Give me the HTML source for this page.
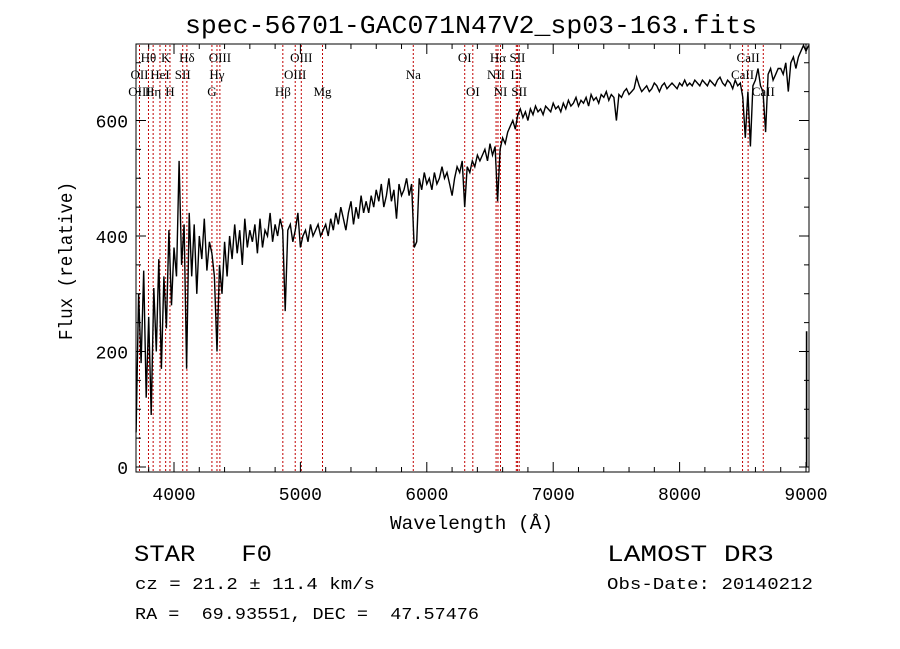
<!DOCTYPE html>
<html><head><meta charset="utf-8"><style>
html,body{margin:0;padding:0;background:#fff;}
svg{display:block;}
text{font-family:"Liberation Mono",monospace;fill:#000;white-space:pre;}
.ser{font-family:"Liberation Serif",serif;}
</style></head><body>
<svg id="chart" width="900" height="649" viewBox="0 0 900 649" xmlns="http://www.w3.org/2000/svg" xml:space="preserve">
<rect width="900" height="649" fill="#fff"/>
<text x="185" y="33" font-size="26" textLength="572" lengthAdjust="spacingAndGlyphs">spec-56701-GAC071N47V2_sp03-163.fits</text>
<g id="lines"></g>
<g id="series"></g>
<rect x="136" y="44" width="673" height="428" fill="none" stroke="#000" stroke-width="1"/>
<g id="axes"></g>
<text x="390" y="529" font-size="19" textLength="163" lengthAdjust="spacingAndGlyphs">Wavelength (Å)</text>
<text transform="translate(72,340) rotate(-90)" font-size="19" textLength="158" lengthAdjust="spacingAndGlyphs">Flux (relative)</text>
<text x="134" y="561" font-size="23" textLength="138" lengthAdjust="spacingAndGlyphs">STAR   F0</text>
<text x="135" y="589" font-size="17" textLength="240" lengthAdjust="spacingAndGlyphs">cz = 21.2 ± 11.4 km/s</text>
<text x="135" y="619" font-size="17" textLength="344" lengthAdjust="spacingAndGlyphs">RA =  69.93551, DEC =  47.57476</text>
<text x="607" y="561" font-size="23" textLength="167" lengthAdjust="spacingAndGlyphs">LAMOST DR3</text>
<text x="607" y="589" font-size="17" textLength="206" lengthAdjust="spacingAndGlyphs">Obs-Date: 20140212</text>
</svg>
<script>
const NS="http://www.w3.org/2000/svg";
const xTicks=[4000,5000,6000,7000,8000,9000];
const yTicks=[0,200,400,600];
const waveStart=3700, waveStep=20;
const flux=[60,300,180,340,120,260,90,310,200,360,170,330,240,410,280,380,
330,530,350,420,170,440,330,420,300,400,360,430,340,390,370,
330,200,350,300,390,330,400,360,420,370,410,350,430,380,410,
390,420,370,430,380,410,400,440,390,420,400,430,410,270,410,420,
390,410,440,380,400,410,390,420,400,410,420,400,410,420,400,
430,410,440,420,450,430,410,440,460,420,450,430,470,440,460,
440,470,450,480,460,490,450,470,500,460,480,430,490,470,480,
500,470,490,380,390,500,480,510,490,500,480,510,490,500,520,
500,510,490,470,500,520,510,530,450,520,510,530,520,540,530,
540,550,530,560,540,555,460,550,570,560,580,590,600,585,610,
620,605,615,600,620,610,625,615,620,610,625,620,615,630,620,
625,615,630,620,635,625,630,640,625,635,630,640,625,645,635,
640,630,645,640,650,635,645,640,600,645,640,650,655,645,650,
655,675,660,650,655,660,650,655,665,660,650,660,665,655,660,
665,660,655,665,660,670,660,665,660,670,665,660,670,665,660,
670,665,660,670,675,665,660,670,665,655,670,660,665,640,570,
650,555,660,670,690,660,650,580,680,690,670,680,690,690,680,
700,650,700,710,690,710,720,730,720,730];
const tailWaves=[9005,9005];
const tailFlux=[235,0];
const lineWaves=[3727,3798,3835,3889,3934,3968,4069,4102,4300,4340,4363,4861,4959,5007,5175,5893,6300,6364,6548,6563,6583,6708,6717,6731,8498,8542,8662];
const labelTexts=["Hθ","K","Hδ","OIII","OIII","OI","Hα","SII","CaII","OII","HeI","SII","Hγ","OIII","Na","NII","Li","CaII","OIII","Hη","H","G","Hβ","Mg","OI","NI","SII","CaII"];
const labelWaves=[3798,3934,4102,4363,5007,6300,6563,6717,8542,3727,3889,4069,4340,4959,5893,6548,6708,8498,3727,3835,3968,4300,4861,5175,6364,6583,6731,8662];
const labelRows=[0,0,0,0,0,0,0,0,0,1,1,1,1,1,1,1,1,1,2,2,2,2,2,2,2,2,2,2];

const X=w=>174+(w-4000)*0.1264;
const Y=v=>467-v*0.5775;
function el(t,a,p){const e=document.createElementNS(NS,t);for(const k in a)e.setAttribute(k,a[k]);p.appendChild(e);return e;}

const axes=document.getElementById('axes');
for(let w=3800;w<=9000;w+=200){const x=X(w);const big=w%1000===0;const L=big?10:5;
 const t1=el('line',{x1:x,x2:x,y1:472,y2:472-L,stroke:'#000'},axes);
 
 
 const t2=el('line',{x1:x,x2:x,y1:44,y2:44+L,stroke:'#000'},axes);
 
 }
xTicks.forEach(w=>{const t=el('text',{x:X(w),y:500,'font-size':18,'text-anchor':'middle'},axes);t.textContent=w;
 
 });
for(let v=0;v<=700;v+=50){const y=Y(v);const big=v%200===0;const L=big?10:5;
 const t1=el('line',{x1:136,x2:136+L,y1:y,y2:y,stroke:'#000'},axes);
 
 
 const t2=el('line',{x1:809,x2:809-L,y1:y,y2:y,stroke:'#000'},axes);
 
 }
yTicks.forEach(v=>{const t=el('text',{x:128,y:Y(v)+7,'font-size':18,'text-anchor':'end'},axes);t.textContent=v;
 
 });

const lg=document.getElementById('lines');
lineWaves.forEach(w=>{const l=el('line',{x1:X(w),x2:X(w),y1:45,y2:471,stroke:'#c00000','stroke-dasharray':'2,2','stroke-width':1},lg);
 
 });
labelTexts.forEach((s,i)=>{const t=el('text',{x:X(labelWaves[i]),y:62+labelRows[i]*17,'font-size':13,'text-anchor':'middle',class:'ser'},lg);t.textContent=s;
 
 });

const pts=flux.map((f,i)=>X(waveStart+i*waveStep).toFixed(1)+','+Y(f).toFixed(1));
const p=el('polyline',{points:pts.join(' '),fill:'none',stroke:'#000','stroke-width':1.4},document.getElementById('series'));


const tpts=tailWaves.map((w,i)=>X(w).toFixed(1)+','+Y(tailFlux[i]).toFixed(1));
const tp=el('polyline',{points:tpts.join(' '),fill:'none',stroke:'#000','stroke-width':1.6},document.getElementById('series'));


</script>
</body></html>
